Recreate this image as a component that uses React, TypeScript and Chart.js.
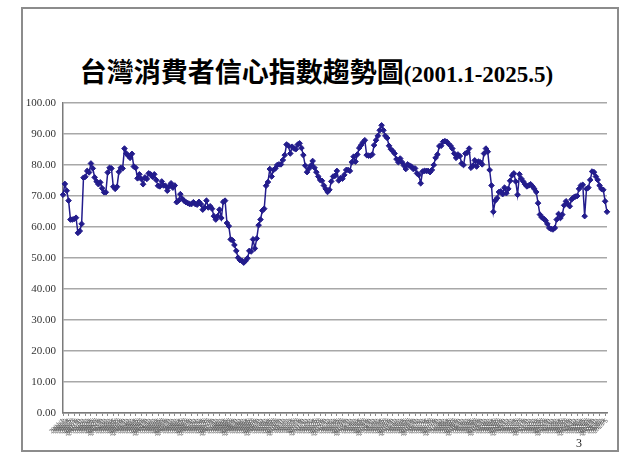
import React, { useEffect, useRef } from "react";
import { Chart, registerables } from "chart.js";

Chart.register(...registerables);

// ---- data ----
const firstYear = 2001;
const lastYear = 2025;
const lastMonth = 5;

const v2001 = [70.4, 73.9, 71.7, 68.5, 62.4, 62.4, 62.6, 63.0, 58.1, 58.7, 61.0, 75.9];
const v2002 = [76.2, 78.1, 77.6, 80.5, 78.9, 76.0, 74.7, 73.8, 74.4, 72.5, 71.2, 71.2];
const v2003 = [77.6, 79.1, 78.9, 73.0, 72.3, 73.0, 77.8, 79.1, 78.9, 85.3, 83.7, 83.0];
const v2004 = [82.3, 83.6, 79.5, 79.1, 75.7, 77.0, 75.5, 73.8, 76.0, 75.5, 77.3, 77.0];
const v2005 = [76.2, 77.0, 75.2, 73.3, 73.1, 74.7, 73.4, 73.3, 71.7, 73.1, 74.1, 72.7];
const v2006 = [73.4, 68.0, 68.5, 70.6, 69.1, 68.5, 68.0, 67.7, 67.4, 67.4, 68.0, 67.4];
const v2007 = [67.2, 68.1, 67.4, 65.6, 66.3, 68.5, 66.3, 66.7, 65.9, 63.5, 62.4, 63.5];
const v2008 = [65.6, 62.9, 68.1, 68.5, 61.3, 60.3, 56.0, 55.7, 54.2, 52.3, 50.1, 49.3];
const v2009 = [49.1, 48.5, 49.1, 49.9, 52.3, 52.1, 56.0, 53.1, 56.3, 60.6, 62.4, 65.3];
const v2010 = [65.9, 73.3, 74.5, 78.7, 76.3, 78.4, 78.9, 80.0, 80.2, 80.2, 81.6, 83.2];
const v2011 = [86.6, 86.2, 83.7, 85.9, 85.3, 85.1, 86.6, 87.0, 85.5, 83.2, 79.8, 77.7];
const v2012 = [78.8, 79.8, 81.3, 79.1, 77.7, 76.3, 75.2, 74.9, 73.4, 72.3, 71.3, 72.0];
const v2013 = [74.7, 76.3, 76.5, 78.1, 75.0, 75.8, 75.6, 76.8, 78.4, 78.4, 78.1, 80.9];
const v2014 = [82.7, 81.1, 83.4, 85.5, 86.4, 87.3, 88.0, 83.2, 83.0, 83.0, 83.4, 86.4];
const v2015 = [88.0, 89.4, 91.2, 92.8, 91.2, 89.4, 88.7, 86.2, 85.1, 84.5, 83.7, 81.9];
const v2016 = [80.9, 82.1, 80.9, 79.8, 78.7, 80.2, 79.8, 79.5, 78.7, 78.9, 77.3, 76.8];
const v2017 = [74.1, 77.9, 78.1, 78.1, 78.1, 77.7, 78.4, 80.0, 82.3, 83.4, 86.1, 86.2];
const v2018 = [87.5, 87.7, 87.5, 86.8, 86.2, 85.3, 83.7, 82.3, 83.4, 82.9, 80.5, 80.0];
const v2019 = [83.7, 84.0, 85.3, 79.1, 79.8, 81.5, 79.5, 81.1, 80.9, 80.2, 83.7, 85.3];
const v2020 = [84.3, 78.4, 73.4, 64.9, 68.5, 69.3, 71.3, 71.5, 70.6, 72.7, 70.9, 72.3];
const v2021 = [74.9, 76.6, 77.3, 74.7, 70.4, 77.0, 75.6, 74.7, 73.8, 73.1, 73.4, 73.8];
const v2022 = [73.1, 72.3, 71.3, 67.7, 64.0, 63.1, 62.7, 62.1, 61.0, 59.7, 59.4, 59.2];
const v2023 = [59.7, 62.4, 64.2, 62.9, 64.0, 67.0, 68.3, 67.4, 66.7, 68.9, 69.5, 69.8];
const v2024 = [70.0, 72.3, 73.4, 73.6, 63.5, 72.3, 72.7, 75.2, 77.9, 77.7, 76.3, 75.2];
const v2025 = [73.4, 72.3, 72.0, 68.3, 64.9];

const cciValues = [
  ...v2001, ...v2002, ...v2003, ...v2004, ...v2005, ...v2006, ...v2007, ...v2008,
  ...v2009, ...v2010, ...v2011, ...v2012, ...v2013, ...v2014, ...v2015, ...v2016,
  ...v2017, ...v2018, ...v2019, ...v2020, ...v2021, ...v2022, ...v2023, ...v2024,
  ...v2025,
];

const monthLabels: string[] = [];
for (let y = firstYear; y <= lastYear; y++) {
  for (let m = 1; m <= 12; m++) {
    if (y === lastYear && m > lastMonth) break;
    monthLabels.push(`${y}/${m}`);
  }
}

const titleCJK = "台灣消費者信心指數趨勢圖";
const titleLatin = "(2001.1-2025.5)";
const pageNumber = "3";

const lineColor = "#231c8c";

export default function App() {
  const canvasRef = useRef<HTMLCanvasElement | null>(null);

  useEffect(() => {
    if (!canvasRef.current) return;
    const chart = new Chart(canvasRef.current, {
      type: "line",
      data: {
        labels: monthLabels,
        datasets: [
          {
            data: cciValues,
            borderColor: lineColor,
            backgroundColor: lineColor,
            borderWidth: 1.5,
            pointStyle: "rectRot",
            pointRadius: 2.8,
            pointBorderWidth: 1,
            pointBorderColor: lineColor,
            pointBackgroundColor: lineColor,
            tension: 0,
            fill: false,
          },
        ],
      },
      options: {
        animation: false,
        responsive: false,
        maintainAspectRatio: false,
        events: [],
        layout: { padding: { left: 20, right: 33, top: 103, bottom: 20 } },
        plugins: {
          legend: { display: false },
          tooltip: { enabled: false },
          title: { display: false },
        },
        scales: {
          x: {
            type: "category",
            offset: false,
            grid: {
              display: true,
              drawOnChartArea: false,
              drawTicks: true,
              tickLength: 3,
              lineWidth: 1,
              color: (ctx: any) => (ctx.index % 3 === 0 ? "#8a8a8a" : "rgba(0,0,0,0)"),
            },
            border: { display: true, color: "#7a7a7a", width: 1.5 },
            ticks: {
              autoSkip: false,
              maxRotation: 45,
              minRotation: 45,
              padding: 1,
              color: "#555555",
              font: { family: "'Liberation Serif', serif", size: 6.5 },
            },
            afterFit: (s: any) => {
              s.height = 35;
            },
          },
          y: {
            min: 0,
            max: 100,
            ticks: {
              stepSize: 10,
              padding: 7,
              color: "#333333",
              font: { family: "'Liberation Serif', serif", size: 11 },
              callback: (v: any) => Number(v).toFixed(2),
            },
            grid: { color: "#a8a8a8", lineWidth: 1.5, drawTicks: false },
            border: { display: true, color: "#7a7a7a", width: 1.5 },
            afterFit: (s: any) => {
              s.width = 43;
            },
          },
        },
      },
    });
    return () => chart.destroy();
  }, []);

  return (
    <div
      style={{
        position: "fixed",
        left: 0,
        top: 0,
        width: 640,
        height: 468,
        background: "#ffffff",
        overflow: "hidden",
      }}
    >
      <div
        style={{
          position: "absolute",
          left: 21,
          top: 7,
          width: 594,
          height: 441,
          border: "2px solid #8c8c8c",
          boxSizing: "content-box",
        }}
      />
      <div
        style={{
          position: "absolute",
          left: 0,
          width: 633,
          top: 53,
          textAlign: "center",
          whiteSpace: "nowrap",
          color: "#000",
          lineHeight: "36px",
        }}
      >
        <span style={{ fontFamily: "'Noto Sans CJK TC', sans-serif", fontSize: 27, fontWeight: 700 }}>
          {titleCJK}
        </span>
        <span style={{ fontFamily: "'Liberation Serif', serif", fontSize: 23, fontWeight: 700 }}>
          {titleLatin}
        </span>
      </div>
      <canvas
        ref={canvasRef}
        width={640}
        height={468}
        style={{ position: "absolute", left: 0, top: 0, width: 640, height: 468 }}
      />
      <div
        style={{
          position: "absolute",
          left: 576,
          top: 436,
          fontFamily: "'Liberation Serif', serif",
          fontSize: 12,
          lineHeight: "14px",
          color: "#222",
        }}
      >
        {pageNumber}
      </div>
    </div>
  );
}
